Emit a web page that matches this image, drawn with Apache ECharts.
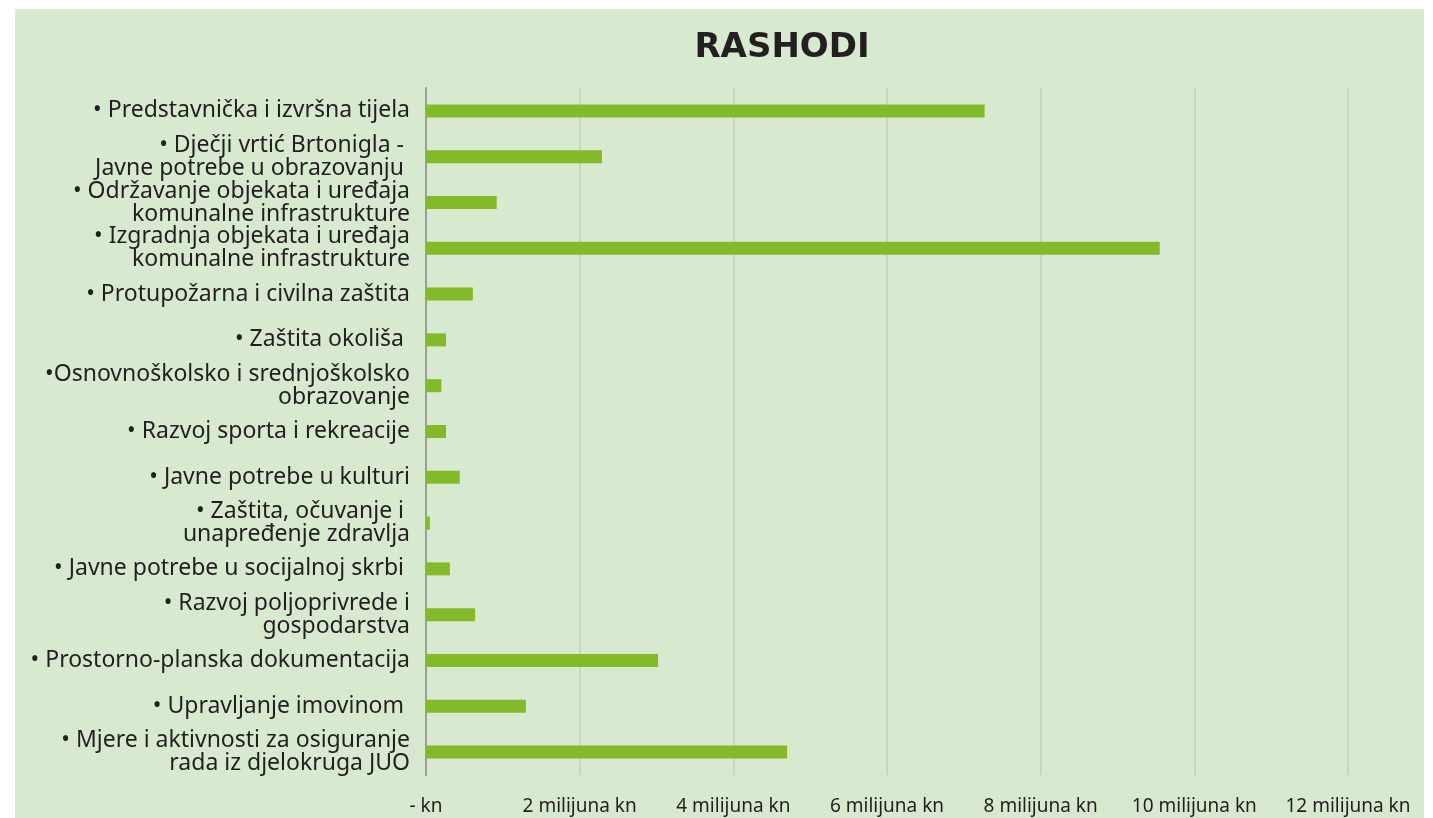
<!DOCTYPE html>
<html>
<head>
<meta charset="utf-8">
<script src="https://cdn.jsdelivr.net/npm/echarts@6/dist/echarts.min.js"></script>
<style>
  html, body { margin: 0; padding: 0; background: #fff; }
  #myChart {
    position: absolute;
    left: 15px;
    top: 9px;
    width: 1409px;
    height: 809px;
    background: #d7e9ce;
  }
</style>
</head>
<body>
<div id="myChart"></div>
<script>
  // kategorije rashoda
  var categories = [
    '• Predstavnička i izvršna tijela',
    '• Dječji vrtić Brtonigla - \nJavne potrebe u obrazovanju ',
    '• Održavanje objekata i uređaja\nkomunalne infrastrukture',
    '• Izgradnja objekata i uređaja\nkomunalne infrastrukture',
    '• Protupožarna i civilna zaštita',
    '• Zaštita okoliša ',
    '•Osnovnoškolsko i srednjoškolsko\nobrazovanje',
    '• Razvoj sporta i rekreacije',
    '• Javne potrebe u kulturi',
    '• Zaštita, očuvanje i \nunapređenje zdravlja',
    '• Javne potrebe u socijalnoj skrbi ',
    '• Razvoj poljoprivrede i\ngospodarstva',
    '• Prostorno-planska dokumentacija',
    '• Upravljanje imovinom ',
    '• Mjere i aktivnosti za osiguranje\nrada iz djelokruga JUO'
  ]
  // iznosi u kn
  var values = [
    7270000, 2290000, 920000, 9550000, 610000,
    260000, 200000, 260000, 440000, 50000,
    310000, 640000, 3020000, 1300000, 4700000
  ]
  var tickLabels = ['- kn', '2 milijuna kn', '4 milijuna kn', '6 milijuna kn',
    '8 milijuna kn', '10 milijuna kn', '12 milijuna kn']

  var option = {
    backgroundColor: 'transparent',
    textStyle: { fontFamily: 'Noto Sans', color: '#231f20' },
    title: {
      text: 'RASHODI',
      left: 762,
      top: 17,
      textAlign: 'center',
      textStyle: {
        fontFamily: 'DejaVu Sans',
        fontWeight: 'bold',
        fontSize: 34,
        color: '#231f20'
      }
    },
    grid: {
      left: 411,
      right: 76,
      top: 79,
      bottom: 43,
      containLabel: false
    },
    xAxis: {
      type: 'value',
      min: 0,
      max: 12000000,
      interval: 2000000,
      axisLine: { show: false },
      axisTick: { show: false },
      splitLine: {
        show: true,
        lineStyle: { color: '#c6d9bc', width: 2 }
      },
      axisLabel: {
        margin: 22,
        fontSize: 19,
        color: '#231f20',
        formatter: function (v) {
          return tickLabels[Math.round(v / 2000000)]
        }
      }
    },
    yAxis: {
      type: 'category',
      inverse: true,
      data: categories,
      axisLine: { show: true, lineStyle: { color: '#9a9f98', width: 2 } },
      axisTick: { show: false },
      axisLabel: {
        margin: 16,
        fontSize: 23,
        lineHeight: 23,
        color: '#231f20',
        align: 'right'
      }
    },
    series: [
      {
        type: 'bar',
        data: values,
        barWidth: 13,
        itemStyle: { color: '#83ba2a' },
        silent: true
      }
    ]
  }

  var myChart = echarts.init(document.getElementById('myChart'))
  myChart.setOption(option)
</script>
</body>
</html>
